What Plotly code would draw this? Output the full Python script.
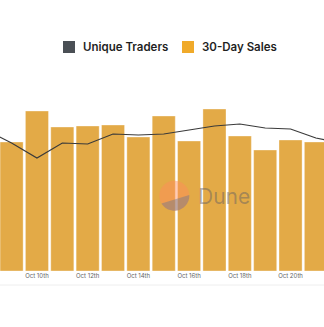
import numpy as np
import plotly.graph_objects as go

# ---- data ----
dates = ["2023-10-08", "2023-10-09", "2023-10-10", "2023-10-11", "2023-10-12",
         "2023-10-13", "2023-10-14", "2023-10-15", "2023-10-16", "2023-10-17",
         "2023-10-18", "2023-10-19", "2023-10-20", "2023-10-21", "2023-10-22"]
sales_30d = [1400, 1290, 1600, 1440, 1450, 1460, 1340, 1550, 1300, 1620,
             1350, 1210, 1310, 1290, 1330]
unique_traders = [705, 640, 565, 640, 635, 685, 680, 685, 705, 725,
                  735, 715, 710, 665, 640]
tick_dates = ["2023-10-10", "2023-10-12", "2023-10-14", "2023-10-16",
              "2023-10-18", "2023-10-20"]
tick_labels = ["Oct 10th", "Oct 12th", "Oct 14th", "Oct 16th",
               "Oct 18th", "Oct 20th"]

W, H = 324, 327
T, B = 80, 56
PH = H - T - B


def px(x):
    return x / W


def py(y):
    return (H - B - y) / PH


BAR = "#E3AA47"
LINE = "#3a3a3a"

fig = go.Figure()
fig.add_trace(go.Bar(
    x=dates, y=sales_30d, name="30-Day Sales",
    marker=dict(color=BAR, line=dict(color="rgba(255,255,255,0.35)", width=1)),
    showlegend=False,
))
fig.add_trace(go.Scatter(
    x=dates, y=unique_traders, name="Unique Traders", mode="lines",
    line=dict(color=LINE, width=1.2), yaxis="y2", showlegend=False,
))

shapes = []
annotations = []

# manual legend
legend_items = [("Unique Traders", "#4a4f55", 63), ("30-Day Sales", "#F0AA2A", 182)]
for label, col, x0 in legend_items:
    shapes.append(dict(type="rect", xref="paper", yref="paper",
                       x0=px(x0), x1=px(x0 + 12), y0=py(53), y1=py(41),
                       fillcolor=col, line=dict(width=0), layer="above"))
    annotations.append(dict(text=label, xref="paper", yref="paper",
                            x=px(x0 + 18), y=py(47.5), xanchor="left", yanchor="middle",
                            showarrow=False,
                            font=dict(family="Inter", size=11.5, color="#1f1f1f", weight=600)))

# faint separator under the axis
shapes.append(dict(type="line", xref="paper", yref="paper", x0=0, x1=1,
                   y0=py(285), y1=py(285), line=dict(color="#eeeeee", width=1)))

# watermark logo
cx, cy, r = 174.3, 195.7, 15
t = np.linspace(0, 2 * np.pi, 60)
pts = " L".join(f"{px(cx + r*np.cos(a)):.5f},{py(cy - r*np.sin(a)):.5f}" for a in t)
shapes.append(dict(type="path", xref="paper", yref="paper", path="M" + pts + " Z",
                   fillcolor="rgba(255,140,90,0.45)", line=dict(width=0), layer="above"))
t2 = np.linspace(np.radians(211), np.radians(363), 40)
pts2 = " L".join(f"{px(cx + r*np.cos(a)):.5f},{py(cy - r*np.sin(a)):.5f}" for a in t2)
shapes.append(dict(type="path", xref="paper", yref="paper", path="M" + pts2 + " Z",
                   fillcolor="rgba(110,120,140,0.45)", line=dict(width=0), layer="above"))
annotations.append(dict(text="Dune", xref="paper", yref="paper", x=px(196), y=py(196),
                        xanchor="left", yanchor="middle", showarrow=False,
                        font=dict(family="Inter", size=21, color="rgba(90,90,100,0.45)")))

fig.update_layout(
    width=W, height=H,
    margin=dict(l=0, r=0, t=T, b=B),
    paper_bgcolor="white", plot_bgcolor="white",
    bargap=0.09,
    showlegend=False,
    xaxis=dict(type="date", range=["2023-10-08 13:02", "2023-10-21 07:40"],
               tickvals=tick_dates, ticktext=tick_labels,
               tickfont=dict(family="Inter", size=6, color="#666"),
               showgrid=False, showline=False, zeroline=False, ticks=""),
    yaxis=dict(range=[0, 1910], visible=False, showgrid=False),
    yaxis2=dict(range=[0, 955], overlaying="y", visible=False, showgrid=False),
    shapes=shapes, annotations=annotations,
)

fig.write_html("out.html")
